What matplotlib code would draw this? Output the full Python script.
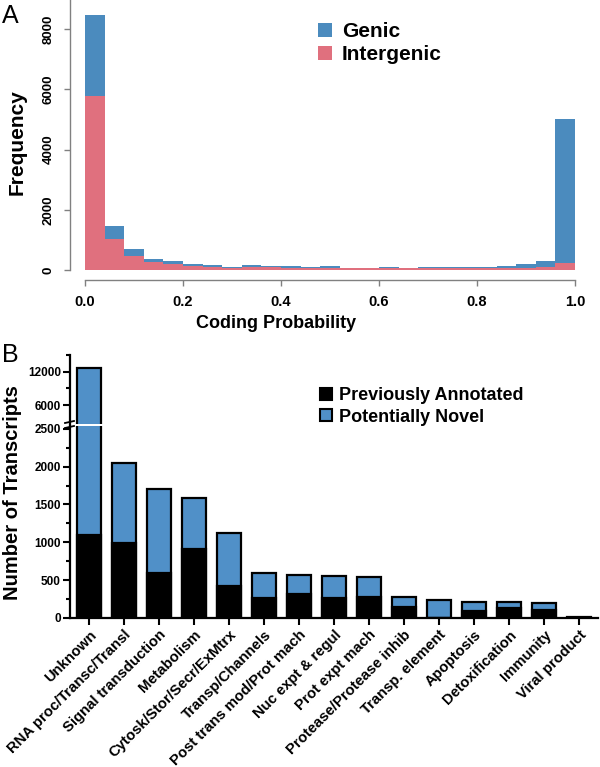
import numpy as np
import matplotlib
matplotlib.use("Agg")
import matplotlib.pyplot as plt
from matplotlib.patches import Patch
from matplotlib.lines import Line2D

plt.rcParams['font.family'] = ['Liberation Sans', 'DejaVu Sans']

# Panel A: histogram of coding probability (25 bins of width 0.04)
bin_edges = np.linspace(0, 1, 26)
genic = [8475, 1460, 687, 355, 289, 200, 177, 110, 155, 133, 120, 90, 120,
         70, 70, 100, 80, 89, 110, 110, 89, 144, 189, 299, 5012]
intergenic = [5786, 1019, 475, 265, 200, 133, 110, 66, 90, 88, 80, 60, 70,
              50, 50, 70, 55, 60, 60, 70, 60, 70, 80, 100, 222]

# Panel B: transcripts per functional class
categories = ["Unknown", "RNA proc/Transc/Transl", "Signal transduction",
              "Metabolism", "Cytosk/Stor/Secr/ExMtrx", "Transp/Channels",
              "Post trans mod/Prot mach", "Nuc expt & regul", "Prot expt mach",
              "Protease/Protease inhib", "Transp. element", "Apoptosis",
              "Detoxification", "Immunity", "Viral product"]
total = [12750, 2048, 1704, 1590, 1123, 590, 573, 555, 538, 277, 243, 212,
         210, 198, 10]
annotated = [1092, 996, 594, 911, 423, 264, 322, 270, 277, 150, 5, 88, 137,
             111, 5]

BLUE_A = "#4b8bbe"
PINK_A = "#e0707e"
BLUE_B = "#5090c8"
W, H = 600, 767


def box(left, top, right, bottom):
    return [left / W, 1 - bottom / H, (right - left) / W, (bottom - top) / H]


fig = plt.figure(figsize=(6, 7.67), dpi=100)

# ---------------- Panel A ----------------
ax = fig.add_axes(box(70, 0, 590, 280))
widths = np.diff(bin_edges)
ax.bar(bin_edges[:-1], genic, width=widths, align='edge', color=BLUE_A,
       linewidth=0, label='Genic')
ax.bar(bin_edges[:-1], intergenic, width=widths, align='edge', color=PINK_A,
       linewidth=0, label='Intergenic')
ax.set_xlim(-0.0306, 1.0306)
ax.set_ylim(-332, 8963)
for s in ['top', 'right']:
    ax.spines[s].set_visible(False)
ax.spines['bottom'].set_bounds(0, 1)
ax.spines['left'].set_bounds(0, 8963)
for s in ['bottom', 'left']:
    ax.spines[s].set_color('#808080')
    ax.spines[s].set_linewidth(1.0)
ax.set_xticks([0, 0.2, 0.4, 0.6, 0.8, 1.0])
ax.set_xticklabels(["0.0", "0.2", "0.4", "0.6", "0.8", "1.0"])
ax.set_yticks([0, 2000, 4000, 6000, 8000])
ax.tick_params(axis='both', color='#808080', length=4, width=1.0)
ax.tick_params(axis='x', pad=7, labelsize=10.5)
ax.tick_params(axis='y', pad=7, labelsize=9.5)
for t in ax.get_xticklabels():
    t.set_fontweight('bold')
for t in ax.get_yticklabels():
    t.set_fontweight('bold')
    t.set_rotation(90)
    t.set_va('center')
ax.patch.set_alpha(0)

fig.text(17 / W, 1 - 142 / H, "Frequency", rotation=90, fontsize=15,
         fontweight='bold', ha='center', va='center')
fig.text(276 / W, 1 - 324 / H, "Coding Probability", fontsize=13,
         fontweight='bold', ha='center', va='center')
fig.text(10 / W, 1 - 16 / H, "A", fontsize=18, ha='center', va='center')

ax.legend(loc='upper left', bbox_to_anchor=(318 / W, 1 - 22 / H),
          bbox_transform=fig.transFigure, frameon=False,
          prop={'weight': 'bold', 'size': 15}, handlelength=0.65,
          handleheight=0.65, handletextpad=0.5, labelspacing=0.2,
          borderaxespad=0, borderpad=0)

# ---------------- Panel B ----------------
x = np.arange(len(categories))
xlim = (-0.543, 14.543)
axl = fig.add_axes(box(70, 426, 598, 618))
axu = fig.add_axes(box(70, 355, 598, 424))

for a in (axl, axu):
    a.bar(x, total, width=0.7, color=BLUE_B, edgecolor='black', linewidth=1.6)
    a.bar(x, annotated, width=0.7, color='black', edgecolor='black',
          linewidth=1.6)
    a.set_xlim(*xlim)
    for s in ['top', 'right']:
        a.spines[s].set_visible(False)
    a.spines['left'].set_linewidth(1.6)
    a.tick_params(axis='y', which='major', length=5, width=1.5, pad=1.5,
                  labelsize=8.5)
    a.tick_params(axis='y', which='minor', length=3, width=1.5)
    a.patch.set_alpha(0)

axl.set_ylim(0, 2536)
axl.set_yticks(np.arange(0, 2501, 500))
axl.set_yticks(np.arange(250, 2500, 500), minor=True)
axl.spines['bottom'].set_linewidth(1.6)
axl.set_xticks(x)
axl.set_xticklabels(categories, rotation=45, ha='right', va='top',
                    rotation_mode='anchor', fontsize=10.7, fontweight='bold')
axl.tick_params(axis='x', length=5, width=1.5, pad=2)

axu.set_ylim(2626, 15000)
axu.set_yticks([6000, 12000])
axu.set_yticks([9000, 15000], minor=True)
axu.spines['bottom'].set_visible(False)
axu.set_xticks([])

for t in axl.get_yticklabels() + axu.get_yticklabels():
    t.set_fontweight('bold')

# break marks on the y axis
for yb in (422, 427):
    fig.add_artist(Line2D([65 / W, 74 / W], [1 - (yb + 1) / H, 1 - (yb - 1) / H],
                          color='black', linewidth=1.3))

fig.text(13 / W, 1 - 493 / H, "Number of Transcripts", rotation=90,
         fontsize=14.5, fontweight='bold', ha='center', va='center')
fig.text(10 / W, 1 - 355 / H, "B", fontsize=18, ha='center', va='center')

handles = [Patch(facecolor='black', edgecolor='black', linewidth=1.5),
           Patch(facecolor=BLUE_B, edgecolor='black', linewidth=1.5)]
fig.legend(handles, ["Previously Annotated", "Potentially Novel"],
           loc='upper left', bbox_to_anchor=(320 / W, 1 - 387 / H),
           frameon=False, prop={'weight': 'bold', 'size': 13},
           handlelength=0.65, handleheight=0.65, handletextpad=0.4,
           labelspacing=0.25, borderaxespad=0, borderpad=0)

fig.savefig("out.png", dpi=100)
